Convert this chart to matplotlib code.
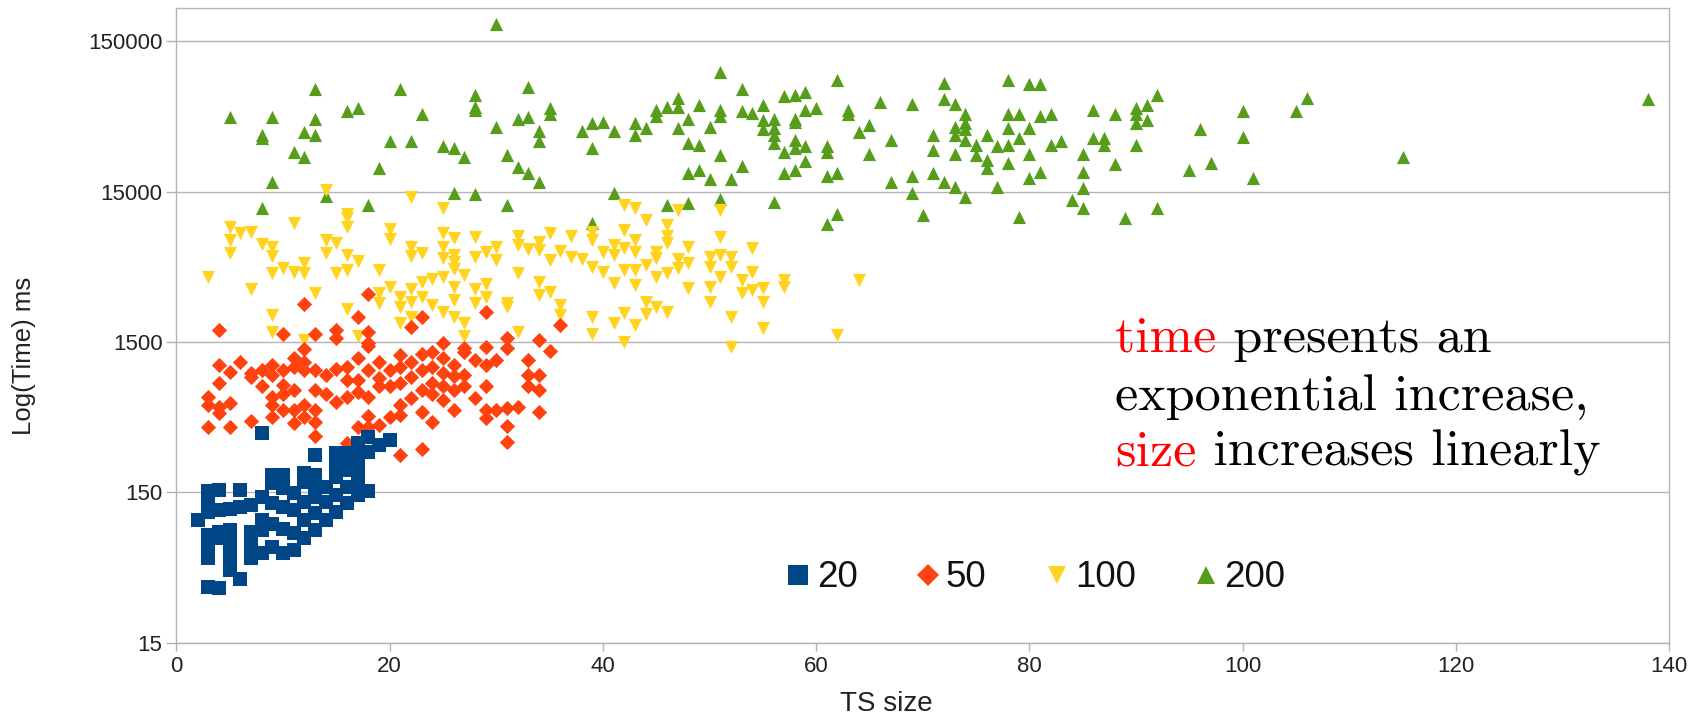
import matplotlib
matplotlib.use("Agg")
import matplotlib.pyplot as plt
from matplotlib.lines import Line2D

# ---------------- data (TS size, time in ms) ----------------
series_names = ["20", "50", "100", "200"]
series_colors = ["#004586", "#ff420e", "#ffd320", "#579d1c"]

blue_x = [2,
          3, 3, 3, 3, 3, 3, 3,
          4, 4, 4, 4, 4,
          5, 5, 5, 5, 5,
          6, 6, 6,
          7, 7, 7, 7,
          8, 8, 8, 8, 8,
          9, 9, 9, 9, 9,
          10, 10, 10, 10, 10,
          11, 11, 11, 11,
          12, 12, 12, 12, 12,
          13, 13, 13, 13, 13, 13,
          14, 14, 14,
          15, 15, 15, 15, 15,
          16, 16, 16, 16, 16,
          17, 17, 17, 17, 17, 17,
          18, 18, 18,
          19,
          20]
blue_y = [98,
          152, 111, 127, 78, 67, 55, 35,
          156, 115, 82, 74, 34.5,
          117, 84, 69, 56, 46,
          156, 120, 40,
          124, 82, 67, 55,
          374, 140, 98, 84, 59,
          196, 172, 127, 93, 65,
          196, 160, 120, 86, 59,
          148, 115, 80, 62,
          203, 177, 130, 98, 74,
          266, 196, 172, 140, 109, 84,
          164, 130, 98,
          273, 234, 191, 144, 111,
          273, 246, 211, 164, 127,
          318, 246, 206, 259, 172, 144,
          352, 280, 152,
          310,
          335]

orange_x = [3, 3, 3,
            4, 4, 4, 4, 4,
            5, 5, 5,
            6,
            7, 7, 7,
            8, 8,
            9, 9, 9, 9, 9,
            10, 10, 10, 10, 10,
            11, 11, 11, 11, 11,
            12, 12, 12, 12, 12, 12,
            13, 13, 13, 13, 13, 13,
            14, 14,
            15, 15, 15, 15,
            16, 16, 16, 16,
            17, 17, 17, 17, 17,
            18, 18, 18, 18, 18, 18, 18, 18,
            19, 19, 19, 19,
            20, 20, 20,
            21, 21, 21, 21, 21, 21,
            22, 22, 22, 22,
            23, 23, 23, 23, 23, 23,
            24, 24, 24, 24, 24,
            25, 25, 25, 25, 25,
            26, 26, 26, 26,
            27, 27, 27, 27,
            28, 28,
            29, 29, 29, 29, 29, 29,
            30, 30,
            31, 31, 31, 31, 31,
            32,
            33, 33, 33,
            34, 34, 34, 34,
            35,
            36]
orange_y = [650, 572, 410,
            1790, 1060, 800, 557, 508,
            950, 587, 410,
            1110,
            940, 880, 450,
            980, 760,
            1060, 910, 644, 572, 479,
            1700, 980, 780, 680, 530,
            1170, 1020, 720, 530, 436,
            2690, 1340, 1110, 980, 572, 479,
            1700, 980, 720, 530, 443, 356,
            910, 680,
            1800, 1590, 990, 601,
            1020, 840, 650, 321,
            2210, 1170, 840, 700, 410,
            3130, 1760, 1410, 1470, 980, 650, 483, 410,
            1110, 860, 760, 421,
            980, 760, 479,
            1230, 1030, 800, 572, 491, 266,
            1900, 1110, 880, 634,
            2210, 1250, 980, 720, 516, 290,
            1290, 1030, 800, 680, 443,
            1470, 1170, 930, 760, 618,
            1060, 890, 720, 530,
            1360, 1290, 910, 760,
            1140, 634,
            2390, 1400, 1060, 760, 530, 467,
            1140, 530,
            1590, 1360, 543, 415, 326,
            557,
            1140, 910, 760,
            1550, 910, 720, 516,
            1310,
            1950]

yellow_x = [3,
            5, 5, 5,
            6,
            7, 7,
            8,
            9, 9, 9, 9, 9,
            10,
            11, 11,
            12, 12, 12,
            13,
            14, 14, 14,
            15, 15,
            16, 16, 16, 16, 16, 16,
            17, 17,
            19, 19, 19,
            20, 20, 20,
            21, 21, 21,
            22, 22, 22, 22, 22, 22,
            23, 23, 23,
            24, 24,
            25, 25, 25, 25, 25, 25,
            26, 26, 26, 26, 26, 26, 26,
            27, 27, 27,
            28, 28, 28, 28,
            29, 29, 29,
            30, 30,
            31, 31,
            32, 32, 32, 32,
            33,
            34, 34, 34, 34,
            35, 35, 35,
            36, 36, 36,
            37, 37,
            38,
            39, 39, 39, 39, 39,
            40, 40,
            41, 41, 41, 41,
            42, 42, 42, 42, 42, 42,
            43, 43, 43, 43, 43, 43,
            44, 44, 44, 44,
            45, 45, 45, 45,
            46, 46, 46, 46, 46,
            47, 47, 47,
            48, 48, 48,
            50, 50, 50, 50,
            51, 51, 51, 51,
            52, 52, 52, 52,
            53, 53,
            54, 54, 54,
            55, 55, 55,
            57, 57,
            62,
            64]
yellow_y = [4080,
            8710, 7160, 5900,
            8020,
            8130, 3370,
            6740,
            6410, 5610, 4300, 2270, 1760,
            4650,
            9330, 4410,
            5010, 4340, 1550,
            3170,
            15500, 7160, 5850,
            6870, 4340,
            10700, 10000, 8710, 5690, 4530, 2480,
            5210, 1650,
            4530, 3200, 2720,
            8510, 7240, 3500,
            2980, 2580, 2020,
            13800, 6410, 5610, 3370, 2790, 2210,
            5900, 3780, 3010,
            3930, 2650,
            11700, 8020, 6410, 5410, 4080, 2390,
            7360, 5690, 5140, 4570, 3500, 2860, 2210,
            4190, 2000, 1650,
            7460, 5500, 3370, 2720,
            5990, 3650, 2980,
            6470, 5270,
            2740, 2580,
            7620, 6640, 4340, 1760,
            6210,
            6980, 6150, 3780, 3080,
            8020, 5270, 3240,
            6080, 2650, 2270,
            7620, 5550,
            5330,
            8130, 7160, 4720, 2210, 1700,
            5990, 4410,
            6640, 5690, 3720, 2020,
            12300, 8320, 6310, 4530, 2350, 1510,
            11700, 7160, 5990, 4530, 3590, 1950,
            9770, 4890, 2790, 2310,
            5990, 5410, 4080, 2580,
            9020, 7620, 6870, 4300, 2390,
            11400, 5330, 4650,
            6470, 3420, 5010,
            5550, 4760, 3500, 2790,
            11400, 7460, 5690, 4080,
            5550, 4760, 2210, 1400,
            3880, 3170,
            6310, 4410, 3330,
            3420, 2790, 1850,
            3880, 3500,
            1670,
            3880]

green_x = [30, 51, 62, 72, 78, 80, 81, 13, 21, 33,
           28, 28, 28, 5, 9, 13, 16, 17, 23, 32,
           33, 35, 35, 30, 34, 34, 8, 8, 12, 13,
           20, 22, 11, 12, 25, 26, 27, 31, 19, 32,
           33, 34, 9, 39, 38, 39, 40, 41, 43, 43,
           44, 45, 45, 46, 47, 47, 49, 48, 47, 50,
           51, 51, 53, 53, 54, 55, 57, 58, 59, 59,
           60, 55, 56, 56, 55, 56, 58, 58, 48, 49,
           51, 53, 48, 49, 50, 52, 56, 57, 58, 58,
           59, 59, 57, 58, 61, 61, 61, 62, 63, 63,
           64, 65, 66, 67, 65, 67, 69, 69, 71, 71,
           71, 72, 73, 72, 73, 73, 73, 74, 74, 74,
           74, 75, 73, 75, 76, 76, 76, 77, 78, 77,
           78, 79, 78, 79, 80, 80, 78, 80, 81, 81,
           82, 82, 83, 85, 85, 85, 86, 86, 87, 87,
           88, 88, 90, 90, 91, 91, 90, 92, 90, 96,
           95, 97, 100, 100, 101, 105, 106, 115, 138, 14,
           8, 18, 26, 28, 31, 39, 41, 46, 48, 51,
           56, 61, 62, 69, 70, 74, 79, 84, 85, 89,
           92]
green_y = [195000, 93300, 83200, 79400, 83200, 77600, 78000, 72400, 72400, 74100,
           66100, 55000, 52500, 46800, 46800, 45700, 51300, 53700, 49000, 45700,
           46800, 53700, 49000, 40700, 38000, 32400, 35500, 33900, 37200, 35500,
           32400, 32400, 27500, 25700, 30200, 29500, 25700, 26300, 21400, 21900,
           20000, 17400, 17400, 29500, 38000, 42700, 43700, 38000, 42700, 35500,
           39800, 52500, 47900, 55000, 63100, 55000, 56200, 45700, 39800, 40700,
           52500, 47900, 72400, 51300, 50100, 56200, 64600, 66100, 69200, 52500,
           53700, 44700, 45700, 39800, 38900, 35500, 45700, 43700, 31600, 30900,
           26300, 22400, 20000, 20900, 18200, 18200, 31600, 27500, 33100, 29500,
           30200, 24000, 20000, 20900, 30200, 27500, 19100, 20000, 52500, 49000,
           37200, 41700, 58900, 33100, 26900, 17400, 57500, 19100, 35500, 28200,
           20000, 61700, 57500, 17400, 16200, 40700, 35500, 49000, 42700, 38900,
           33100, 30900, 26900, 26300, 24500, 21400, 35500, 30200, 30900, 16200,
           49000, 49000, 39800, 33900, 39800, 26900, 23400, 18600, 20400, 47900,
           49000, 30900, 32400, 26900, 20400, 15800, 52500, 33900, 33900, 30900,
           49000, 22900, 53700, 49000, 56200, 44700, 42700, 66100, 30900, 38900,
           20900, 23400, 51300, 34700, 18600, 51300, 63100, 25700, 61700, 14100,
           11700, 12300, 14800, 14500, 12300, 9330, 14800, 12300, 12600, 13500,
           12900, 9120, 10700, 14800, 10500, 13800, 10200, 13200, 11700, 10000,
           11700]

x_ticks = [0, 20, 40, 60, 80, 100, 120, 140]
y_ticks = [15, 150, 1500, 15000, 150000]
y_tick_labels = ["15", "150", "1500", "15000", "150000"]

# ---------------- figure ----------------
W, H = 1694, 715
fig = plt.figure(figsize=(W / 100, H / 100), dpi=100)
ax = fig.add_axes([176.3 / W, 1 - 642.7 / H, (1669.3 - 176.3) / W, (642.7 - 8) / H])

grey = "#b3b3b3"
sans = "Liberation Sans"

markers = ["s", "D", "v", "^"]
sizes = [100, 60, 90, 90]
data = [(blue_x, blue_y), (orange_x, orange_y), (yellow_x, yellow_y), (green_x, green_y)]
# later series drawn first -> series "20" on top
for i in range(3, -1, -1):
    xs, ys = data[i]
    ax.scatter(xs, ys, marker=markers[i], s=sizes[i], color=series_colors[i],
               linewidths=0, zorder=3 + (3 - i))

ax.set_yscale("log")
ax.set_xlim(0, 140)
ax.set_ylim(15, 250000)
ax.set_xticks(x_ticks)
ax.set_xticklabels([str(t) for t in x_ticks])
ax.set_yticks(y_ticks)
ax.set_yticklabels(y_tick_labels)
ax.yaxis.set_minor_locator(matplotlib.ticker.NullLocator())

ax.grid(axis="y", color=grey, linewidth=1.0, zorder=0)
ax.set_axisbelow(True)
for sp in ax.spines.values():
    sp.set_color(grey)
    sp.set_linewidth(1.0)
ax.tick_params(axis="x", direction="out", length=5.5, width=1, color=grey, pad=4,
               labelsize=16, labelcolor="#222222")
ax.tick_params(axis="y", direction="out", length=7, width=1, color=grey, pad=3,
               labelsize=16, labelcolor="#222222")
for lab in ax.get_xticklabels() + ax.get_yticklabels():
    lab.set_fontfamily(sans)

fig.text(886 / W, 1 - 704 / H, "TS size", ha="center", va="center",
         fontsize=20, family=sans, color="#222222")
fig.text(24 / W, 1 - 356 / H, "Log(Time) ms", ha="center", va="center",
         rotation=90, fontsize=18.5, family=sans, color="#222222")

# legend
handles = [Line2D([], [], linestyle="none", marker=markers[i], color=series_colors[i],
                  markersize=[9.6, 7.5, 9.2, 9.2][i], markeredgewidth=0)
           for i in range(4)]
leg = ax.legend(handles, series_names, loc="center", bbox_to_anchor=(0.576, 0.102),
                ncol=4, frameon=False, markerscale=1.45,
                handlelength=0.6, handletextpad=0.2, columnspacing=1.6,
                prop={"family": sans, "size": 26.5})
for t in leg.get_texts():
    t.set_color("#111111")

# annotation text
serif = "cmr10"
fs = 37.5
def line(x_px, base_px, parts):
    prev = None
    for txt, col in parts:
        if prev is None:
            prev = fig.text(x_px / W, 1 - base_px / H, txt, ha="left", va="baseline",
                            fontsize=fs, family=serif, color=col)
        else:
            prev = ax.annotate(txt, xy=(1, 0), xycoords=prev, ha="left", va="bottom",
                               fontsize=fs, family=serif, color=col,
                               annotation_clip=False)

line(1115, 352, [("time", "#ff0000"), (" presents an", "black")])
line(1115, 410, [("exponential increase,", "black")])
line(1115, 466, [("size", "#ff0000"), (" increases linearly", "black")])

fig.savefig("out.png", dpi=100)
